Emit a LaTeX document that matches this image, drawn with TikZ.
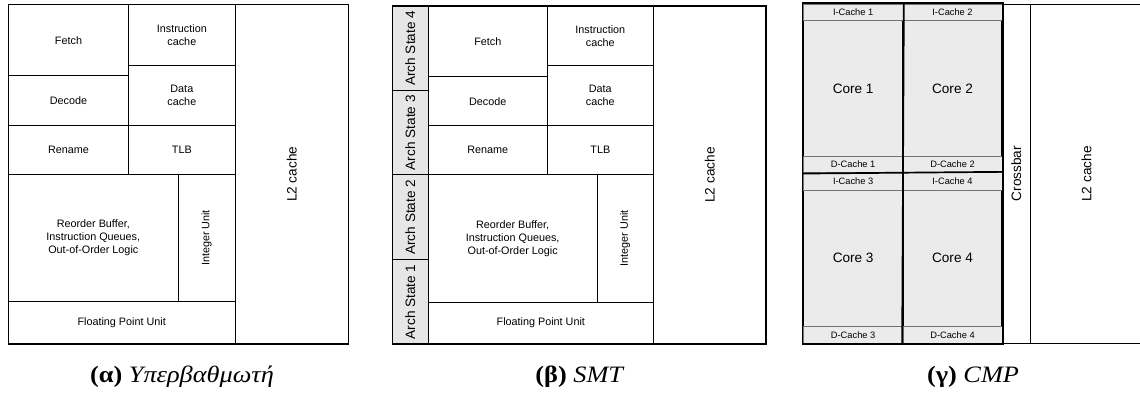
\documentclass[tikz,border=0pt]{standalone}
\usepackage{fontspec}
\setmainfont{Liberation Sans}
\newfontfamily\capfont{Liberation Serif}
\usetikzlibrary{fit,calc}
\definecolor{coregray}{HTML}{EBEBEB}
\definecolor{archgray}{HTML}{E6E6E6}
\newcommand{\mybox}[6][]{\node[blk,#1,fit={(#3,#4)(#5,#6)}] (#2) {};}
\begin{document}
\begin{tikzpicture}[x=1pt,y=-1pt,
  blk/.style={draw,line width=0.8pt,inner sep=0pt},
  outer/.style={draw,line width=1.3pt,inner sep=0pt},
  lbl/.style={font=\fontsize{10.8}{12.9}\selectfont,align=center,inner sep=0pt},
  big/.style={font=\fontsize{13.6}{16}\selectfont,inner sep=0pt},
  small/.style={font=\fontsize{9.3}{11}\selectfont,inner sep=0pt},
  arch/.style={blk,fill=archgray,line width=1.2pt},
  corebox/.style={blk,fill=coregray,line width=1.7pt},
  cachebox/.style={blk,fill=coregray,draw=black!55,line width=0.7pt},
  captext/.style={font=\capfont\fontsize{23.5}{26}\selectfont,inner sep=0pt,anchor=base,xscale=1.12}]
\useasboundingbox (0,0) rectangle (1140,396);

% ---------- (a) superscalar ----------
\mybox{afetch}{8.3}{4.7}{128.7}{75.7}
\mybox{aicache}{128.7}{4.7}{235}{65}
\mybox{adecode}{8.3}{75.7}{128.7}{125.3}
\mybox{adcache}{128.7}{65}{235}{125.3}
\mybox{arename}{8.3}{125.3}{128.7}{174.3}
\mybox{atlb}{128.7}{125.3}{235}{174.3}
\mybox{arob}{8.3}{174.3}{178.3}{301.7}
\mybox{aint}{178.3}{174.3}{235}{301.7}
\mybox{afpu}{8.3}{301.7}{235}{344}
\mybox{al2}{235}{4.7}{348.3}{344}
\mybox[outer]{aouter}{8.3}{4.7}{348.3}{344}
\node[lbl] (afetch-t) at (afetch) {Fetch};
\node[lbl] (aicache-t) at (aicache) {Instruction\\cache};
\node[lbl] (adecode-t) at (adecode) {Decode};
\node[lbl] (adcache-t) at (adcache) {Data\\cache};
\node[lbl] (arename-t) at (arename) {Rename};
\node[lbl] (atlb-t) at (atlb) {TLB};
\node[lbl] (arob-t) at (arob) {Reorder Buffer,\\Instruction Queues,\\Out-of-Order Logic};
\node[lbl,rotate=90] (aint-t) at (aint) {Integer Unit};
\node[lbl] (afpu-t) at (afpu) {Floating Point Unit};
\node[big,rotate=90] (al2-t) at (al2) {L2 cache};
\node[captext] (acap) at (182,382) {\textbf{(α)} \textit{Υπερβαθμωτή}};

% ---------- (b) SMT ----------
\mybox[arch]{bas4}{392.3}{6}{428.3}{90.7}
\mybox[arch]{bas3}{392.3}{90.7}{428.3}{174.7}
\mybox[arch]{bas2}{392.3}{174.7}{428.3}{259.7}
\mybox[arch]{bas1}{392.3}{259.7}{428.3}{344}
\mybox{bfetch}{428.3}{6}{547.3}{76.7}
\mybox{bicache}{547.3}{6}{653.3}{65.7}
\mybox{bdecode}{428.3}{76.7}{547.3}{125.7}
\mybox{bdcache}{547.3}{65.7}{653.3}{125.7}
\mybox{brename}{428.3}{125.7}{547.3}{174.7}
\mybox{btlb}{547.3}{125.7}{653.3}{174.7}
\mybox{brob}{428.3}{174.7}{597}{302}
\mybox{bint}{597}{174.7}{653.3}{302}
\mybox{bfpu}{428.3}{302}{653.3}{344}
\mybox{bl2}{653.3}{6}{766}{344}
\mybox[outer]{bouter}{392.3}{6}{766}{344}
\node[big,rotate=90] (bas4-t) at (bas4) {Arch State 4};
\node[big,rotate=90] (bas3-t) at (bas3) {Arch State 3};
\node[big,rotate=90] (bas2-t) at (bas2) {Arch State 2};
\node[big,rotate=90] (bas1-t) at (bas1) {Arch State 1};
\node[lbl] (bfetch-t) at (bfetch) {Fetch};
\node[lbl] (bicache-t) at (bicache) {Instruction\\cache};
\node[lbl] (bdecode-t) at (bdecode) {Decode};
\node[lbl] (bdcache-t) at (bdcache) {Data\\cache};
\node[lbl] (brename-t) at (brename) {Rename};
\node[lbl] (btlb-t) at (btlb) {TLB};
\node[lbl] (brob-t) at (brob) {Reorder Buffer,\\Instruction Queues,\\Out-of-Order Logic};
\node[lbl,rotate=90] (bint-t) at (bint) {Integer Unit};
\node[lbl] (bfpu-t) at (bfpu) {Floating Point Unit};
\node[big,rotate=90] (bl2-t) at (bl2) {L2 cache};
\node[captext] (bcap) at (580,382) {\textbf{(β)} \textit{SMT}};

% ---------- (c) CMP ----------
\mybox[corebox]{core1}{803.3}{4}{903}{172.7}
\mybox[corebox]{core2}{903}{4}{1002}{172.7}
\mybox[corebox]{core3}{803.3}{172.7}{903}{343.3}
\mybox[corebox]{core4}{903}{172.7}{1002}{343.3}
\mybox[cachebox]{ic1}{803.3}{4}{903}{20.7}
\mybox[cachebox]{ic2}{903}{4}{1002}{20.7}
\mybox[cachebox]{dc1}{803.3}{156}{903}{172.7}
\mybox[cachebox]{dc2}{903}{156}{1002}{172.7}
\mybox[cachebox]{ic3}{803.3}{172.7}{903}{190.3}
\mybox[cachebox]{ic4}{903}{172.7}{1002}{190.3}
\mybox[cachebox]{dc3}{803.3}{326.3}{903}{343.3}
\mybox[cachebox]{dc4}{903}{326.3}{1002}{343.3}
\draw[line width=1.7pt] (core1.north west) rectangle (core4.south east);
\draw[line width=1.7pt] (core1.north east) -- (core4.south west);
\draw[line width=1.7pt] (core1.south west) -- (core4.north east);
\mybox{xbar}{1002}{4}{1030.3}{343.3}
\mybox{cl2}{1030.3}{4}{1143}{343.3}
\node[big] (core1-t) at ($(ic1.south)!0.5!(dc1.north)$) {Core 1};
\node[big] (core2-t) at ($(ic2.south)!0.5!(dc2.north)$) {Core 2};
\node[big] (core3-t) at ($(ic3.south)!0.5!(dc3.north)$) {Core 3};
\node[big] (core4-t) at ($(ic4.south)!0.5!(dc4.north)$) {Core 4};
\node[small] (ic1-t) at (ic1) {I-Cache 1};
\node[small] (ic2-t) at (ic2) {I-Cache 2};
\node[small] (ic3-t) at (ic3) {I-Cache 3};
\node[small] (ic4-t) at (ic4) {I-Cache 4};
\node[small] (dc1-t) at (dc1) {D-Cache 1};
\node[small] (dc2-t) at (dc2) {D-Cache 2};
\node[small] (dc3-t) at (dc3) {D-Cache 3};
\node[small] (dc4-t) at (dc4) {D-Cache 4};
\node[big,rotate=90] (xbar-t) at (xbar) {Crossbar};
\node[big,rotate=90] (cl2-t) at (1086.5,174) {L2 cache};
\node[captext] (ccap) at (973,382) {\textbf{(γ)} \textit{CMP}};
\end{tikzpicture}
\end{document}
